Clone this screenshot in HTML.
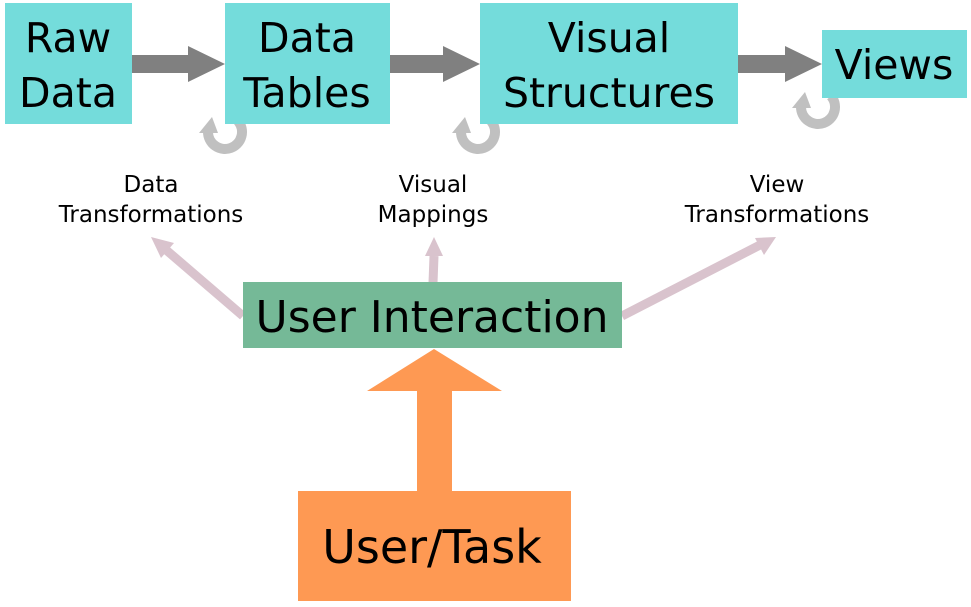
<!DOCTYPE html>
<html><head><meta charset="utf-8"><style>
body{margin:0;background:#fff;width:971px;height:602px;overflow:hidden}
svg text{font-family:"Comic Sans MS","DejaVu Sans","Liberation Sans",sans-serif;fill:#000}
</style></head><body>
<svg width="971" height="602" viewBox="0 0 971 602" xmlns="http://www.w3.org/2000/svg">
<g fill="none" stroke="#c0c0c0" stroke-width="10">
<path d="M208 132 A17 17 0 1 0 238 121"/>
<path d="M461 132 A17 17 0 1 0 491 121"/>
<path d="M801 107 A17 17 0 1 0 831 96"/>
</g>
<g fill="#c0c0c0">
<polygon points="199,133 218,133 212,117"/>
<polygon points="452,133 471,133 465,117"/>
<polygon points="792,108 811,108 805,92"/>
</g>
<g fill="#74dcdb">
<rect x="5" y="3" width="127" height="121"/>
<rect x="225" y="3" width="165" height="121"/>
<rect x="480" y="3" width="258" height="121"/>
<rect x="822" y="30" width="145" height="68"/>
</g>
<g fill="#808080">
<polygon points="132,55 188,55 188,46 225,64 188,82 188,73 132,73"/>
<polygon points="390,55 443,55 443,46 480,64 443,82 443,73 390,73"/>
<polygon points="738,55 785,55 785,46 822,64 785,82 785,73 738,73"/>
</g>
<g font-size="41" text-anchor="middle">
<text x="68" y="52">Raw</text><text x="68" y="107">Data</text>
<text x="307" y="52">Data</text><text x="307" y="107">Tables</text>
<text x="609" y="52">Visual</text><text x="609" y="107">Structures</text>
<text x="894" y="79">Views</text>
</g>
<g font-size="23" text-anchor="middle">
<text x="151" y="192">Data</text><text x="151" y="222">Transformations</text>
<text x="433" y="192">Visual</text><text x="433" y="222">Mappings</text>
<text x="777" y="192">View</text><text x="777" y="222">Transformations</text>
</g>
<g stroke="#d9c3cd" stroke-width="9" fill="none">
<line x1="243" y1="316" x2="165" y2="249"/>
<line x1="433" y1="283" x2="434" y2="256"/>
<line x1="622" y1="316" x2="760" y2="245"/>
</g>
<g fill="#d9c3cd">
<polygon points="151,237 174,243 161,258"/>
<polygon points="434,237 443,256 425,256"/>
<polygon points="776,237 764,255 755,238"/>
</g>
<rect x="243" y="282" width="379" height="66" fill="#75b997"/>
<text x="432" y="332" font-size="44" text-anchor="middle">User Interaction</text>
<polygon points="434,349 502,391 452,391 452,491 417,491 417,391 367,391" fill="#fe9953"/>
<rect x="298" y="491" width="273" height="110" fill="#fe9953"/>
<text x="432" y="563" font-size="46" text-anchor="middle">User/Task</text>
</svg>
</body></html>
